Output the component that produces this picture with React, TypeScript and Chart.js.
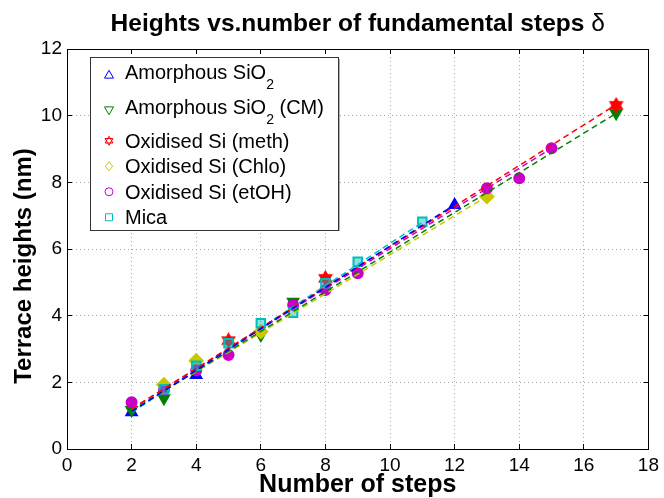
import React, { useEffect, useRef } from 'react';
import { Chart, registerables } from 'chart.js';

Chart.register(...registerables);

const FONT = '"Liberation Sans", Arial, Helvetica, sans-serif';

const TITLE_TEXT = 'Heights vs.number of fundamental steps ';
const TITLE_SYMBOL = 'δ';
const X_TITLE = 'Number of steps';
const Y_TITLE = 'Terrace heights (nm)';

const X_TICKS = [0, 2, 4, 6, 8, 10, 12, 14, 16, 18];
const Y_TICKS = [0, 2, 4, 6, 8, 10, 12];

// "_x" marks a subscript character in a legend entry
const SERIES_LABELS = [
  'Amorphous SiO_2',
  'Amorphous SiO_2 (CM)',
  'Oxidised Si (meth)',
  'Oxidised Si (Chlo)',
  'Oxidised Si (etOH)',
  'Mica',
];

// measured terrace heights (nm) against number of steps
const SIO2_STEPS = [2, 4, 12];
const SIO2_HEIGHTS = [1.1, 2.22, 7.32];

const SIO2_CM_STEPS = [2, 3, 6, 7, 17];
const SIO2_CM_HEIGHTS = [1.17, 1.52, 3.42, 4.42, 10.07];

const METH_STEPS = [5, 8, 17];
const METH_HEIGHTS = [3.25, 5.12, 10.31];

const CHLO_STEPS = [3, 4, 6, 13];
const CHLO_HEIGHTS = [1.93, 2.65, 3.52, 7.57];

const ETOH_STEPS = [2, 3, 4, 5, 7, 8, 9, 13, 14, 15];
const ETOH_HEIGHTS = [1.4, 1.76, 2.36, 2.82, 4.32, 4.77, 5.27, 7.82, 8.12, 9.02];

const MICA_STEPS = [3, 4, 5, 6, 7, 8, 9, 11];
const MICA_HEIGHTS = [1.79, 2.5, 3.17, 3.77, 4.09, 4.97, 5.62, 6.82];

// linear fits per series: [first step, last step] and the fitted heights there
const FIT_STEPS = [
  [2, 12],
  [2, 17],
  [2, 17],
  [2, 13],
  [2, 15],
  [2, 11],
];
const FIT_HEIGHTS = [
  [1.12, 7.33],
  [1.15, 10.07],
  [1.2, 10.33],
  [1.15, 7.58],
  [1.2, 9.02],
  [1.1, 6.8],
];

const SERIES_STEPS = [SIO2_STEPS, SIO2_CM_STEPS, METH_STEPS, CHLO_STEPS, ETOH_STEPS, MICA_STEPS];
const SERIES_HEIGHTS = [SIO2_HEIGHTS, SIO2_CM_HEIGHTS, METH_HEIGHTS, CHLO_HEIGHTS, ETOH_HEIGHTS, MICA_HEIGHTS];

type MarkerStyle = 'triangle' | 'triangleDown' | 'hexagram' | 'diamond' | 'circle' | 'square';

const SERIES_STYLE: { color: string; fill: string; marker: MarkerStyle; radius: number }[] = [
  { color: '#0000ff', fill: '#0000ff', marker: 'triangle', radius: 6 },
  { color: '#008000', fill: '#008000', marker: 'triangleDown', radius: 6 },
  { color: '#ff0000', fill: '#ff0000', marker: 'hexagram', radius: 6.5 },
  { color: '#c8c800', fill: '#c8c800', marker: 'diamond', radius: 6.5 },
  { color: '#c800c8', fill: '#c800c8', marker: 'circle', radius: 5 },
  { color: '#00bebe', fill: 'rgba(0,190,190,0.45)', marker: 'square', radius: 6 },
];

function hexagramPath(g: CanvasRenderingContext2D, cx: number, cy: number, r: number) {
  g.beginPath();
  for (let k = 0; k < 2; k++) {
    for (let i = 0; i < 3; i++) {
      const a = -Math.PI / 2 + k * Math.PI + (i * 2 * Math.PI) / 3;
      const px = cx + r * Math.cos(a);
      const py = cy + r * Math.sin(a);
      if (i === 0) g.moveTo(px, py);
      else g.lineTo(px, py);
    }
    g.closePath();
  }
}

function hexagramImage(color: string, r: number) {
  const size = Math.ceil(r * 2 + 4);
  const c = document.createElement('canvas');
  c.width = size;
  c.height = size;
  const g = c.getContext('2d')!;
  g.fillStyle = color;
  g.strokeStyle = color;
  g.lineWidth = 2;
  hexagramPath(g, size / 2, size / 2, r);
  g.fill();
  g.stroke();
  return c;
}

// hollow legend marker
function drawLegendMarker(g: CanvasRenderingContext2D, marker: MarkerStyle, x: number, y: number, color: string) {
  g.save();
  g.strokeStyle = color;
  g.lineWidth = 1;
  g.beginPath();
  const r = 4.5;
  if (marker === 'triangle' || marker === 'triangleDown') {
    const s = marker === 'triangle' ? 1 : -1;
    g.moveTo(x, y - s * r);
    g.lineTo(x + r, y + s * r * 0.75);
    g.lineTo(x - r, y + s * r * 0.75);
    g.closePath();
  } else if (marker === 'hexagram') {
    hexagramPath(g, x, y, r);
  } else if (marker === 'diamond') {
    g.moveTo(x, y - r);
    g.lineTo(x + r * 0.8, y);
    g.lineTo(x, y + r);
    g.lineTo(x - r * 0.8, y);
    g.closePath();
  } else if (marker === 'circle') {
    g.arc(x, y, 4, 0, Math.PI * 2);
  } else {
    g.rect(x - 3.5, y - 3.5, 7, 7);
  }
  g.stroke();
  g.restore();
}

function drawRichText(g: CanvasRenderingContext2D, text: string, x: number, baseline: number) {
  const main = `20px ${FONT}`;
  const sub = `14px ${FONT}`;
  let cx = x;
  let buf = '';
  const flush = () => {
    if (!buf) return;
    g.font = main;
    g.fillText(buf, cx, baseline);
    cx += g.measureText(buf).width;
    buf = '';
  };
  for (let i = 0; i < text.length; i++) {
    if (text[i] === '_' && i + 1 < text.length) {
      flush();
      g.font = sub;
      g.fillText(text[i + 1], cx, baseline + 10);
      cx += g.measureText(text[i + 1]).width;
      i++;
    } else {
      buf += text[i];
    }
  }
  flush();
}

const decorPlugin = {
  id: 'decor',
  afterDraw(chart: any) {
    const { ctx, chartArea: a, scales } = chart;
    const al = (v: number) => Math.round(v - 0.5) + 0.5;
    ctx.save();

    // axes box
    ctx.strokeStyle = '#000';
    ctx.lineWidth = 1;
    ctx.beginPath();
    ctx.moveTo(al(a.left), al(a.top));
    ctx.lineTo(al(a.right), al(a.top));
    ctx.lineTo(al(a.right), al(a.bottom));
    ctx.stroke();

    // inward tick marks on all four sides
    const tl = 5;
    ctx.beginPath();
    X_TICKS.forEach((v) => {
      const px = al(scales.x.getPixelForValue(v));
      ctx.moveTo(px, a.bottom);
      ctx.lineTo(px, a.bottom - tl);
      ctx.moveTo(px, a.top);
      ctx.lineTo(px, a.top + tl);
    });
    Y_TICKS.forEach((v) => {
      const py = al(scales.y.getPixelForValue(v));
      ctx.moveTo(a.left, py);
      ctx.lineTo(a.left + tl, py);
      ctx.moveTo(a.right, py);
      ctx.lineTo(a.right - tl, py);
    });
    ctx.stroke();

    // title
    ctx.fillStyle = '#000';
    ctx.textBaseline = 'alphabetic';
    ctx.textAlign = 'left';
    const boldFont = `bold 24.5px ${FONT}`;
    const symFont = `24.5px ${FONT}`;
    ctx.font = boldFont;
    const w1 = ctx.measureText(TITLE_TEXT).width;
    ctx.font = symFont;
    const w2 = ctx.measureText(TITLE_SYMBOL).width;
    const tx = (a.left + a.right) / 2 - (w1 + w2) / 2;
    ctx.font = boldFont;
    ctx.fillText(TITLE_TEXT, tx, 31);
    ctx.font = symFont;
    ctx.fillText(TITLE_SYMBOL, tx + w1, 31);

    // y-axis label, rotated
    ctx.save();
    ctx.translate(31, 266);
    ctx.rotate(-Math.PI / 2);
    ctx.font = `bold 24px ${FONT}`;
    ctx.textAlign = 'center';
    ctx.textBaseline = 'alphabetic';
    ctx.fillText(Y_TITLE, 0, 0);
    ctx.restore();

    // legend box
    const lx = a.left + 23;
    const ly = a.top + 8;
    const lw = 248;
    const rows = SERIES_LABELS.map((t) => (t.includes('_') ? 35.5 : 25.5));
    const lh = rows.reduce((s, h) => s + h, 0);
    ctx.fillStyle = '#fff';
    ctx.fillRect(lx, ly, lw, lh);
    ctx.strokeStyle = '#b0b0b0';
    ctx.lineWidth = 2;
    ctx.beginPath();
    ctx.moveTo(lx + lw + 1, ly + 2);
    ctx.lineTo(lx + lw + 1, ly + lh + 1);
    ctx.stroke();
    ctx.strokeStyle = '#333';
    ctx.lineWidth = 1;
    ctx.strokeRect(lx + 0.5, ly + 0.5, lw, lh);

    let y = ly;
    SERIES_LABELS.forEach((label, i) => {
      const h = rows[i];
      const cy = y + h / 2;
      const st = SERIES_STYLE[i];
      drawLegendMarker(ctx, st.marker, lx + 19, cy, st.color);
      ctx.fillStyle = '#000';
      ctx.textAlign = 'left';
      ctx.textBaseline = 'alphabetic';
      const hasSub = label.includes('_');
      drawRichText(ctx, label, lx + 35, hasSub ? cy + 4 : cy + 7);
      y += h;
    });

    ctx.restore();
  },
};

export default function App() {
  const canvasRef = useRef<HTMLCanvasElement | null>(null);

  useEffect(() => {
    const canvas = canvasRef.current;
    if (!canvas) return;

    const pointStyleFor = (s: (typeof SERIES_STYLE)[number]) => {
      switch (s.marker) {
        case 'triangle':
        case 'triangleDown':
          return 'triangle';
        case 'hexagram':
          return hexagramImage(s.color, s.radius);
        case 'diamond':
          return 'rectRot';
        case 'circle':
          return 'circle';
        default:
          return 'rect';
      }
    };

    const pointSets = SERIES_LABELS.map((label, i) => {
      const s = SERIES_STYLE[i];
      return {
        type: 'scatter',
        label,
        data: SERIES_STEPS[i].map((x, j) => ({ x, y: SERIES_HEIGHTS[i][j] })),
        pointStyle: pointStyleFor(s),
        pointRotation: s.marker === 'triangleDown' ? 180 : 0,
        pointRadius: s.radius,
        pointBorderWidth: 2,
        borderColor: s.color,
        backgroundColor: s.fill,
        showLine: false,
        order: 10 - i,
      };
    });

    const fitSets = SERIES_LABELS.map((label, i) => ({
      type: 'scatter',
      label: `${label} fit`,
      data: FIT_STEPS[i].map((x, j) => ({ x, y: FIT_HEIGHTS[i][j] })),
      showLine: true,
      borderColor: SERIES_STYLE[i].color,
      borderWidth: 1.5,
      borderDash: [6, 4],
      pointRadius: 0,
      fill: false,
      order: 0,
    }));

    const tickFont = { family: FONT, size: 19 };

    const chart = new Chart(canvas, {
      type: 'scatter',
      data: { datasets: [...fitSets, ...pointSets] as any },
      options: {
        responsive: false,
        animation: false,
        devicePixelRatio: 1,
        layout: { padding: { top: 49, right: 12, bottom: 0, left: 0 } },
        plugins: {
          legend: { display: false },
          tooltip: { enabled: false },
          title: { display: false },
        },
        scales: {
          x: {
            type: 'linear',
            min: 0,
            max: 18,
            afterBuildTicks: (s: any) => {
              s.ticks = X_TICKS.map((v) => ({ value: v }));
            },
            ticks: { font: tickFont, color: '#000', padding: 5, maxRotation: 0 },
            grid: { color: '#a8a8a8', lineWidth: 1, drawTicks: false },
            border: { display: true, color: '#000', width: 1, dash: [1, 3] },
            title: {
              display: true,
              text: X_TITLE,
              color: '#000',
              font: { family: FONT, size: 25, weight: 'bold' },
              padding: { top: 0, bottom: -2 },
            },
            afterFit: (s: any) => {
              s.height = 49;
            },
          },
          y: {
            type: 'linear',
            min: 0,
            max: 12,
            afterBuildTicks: (s: any) => {
              s.ticks = Y_TICKS.map((v) => ({ value: v }));
            },
            ticks: { font: tickFont, color: '#000', padding: 5 },
            grid: { color: '#a8a8a8', lineWidth: 1, drawTicks: false },
            border: { display: true, color: '#000', width: 1, dash: [1, 3] },
            title: { display: false },
            afterFit: (s: any) => {
              s.width = 67;
            },
          },
        },
      } as any,
      plugins: [decorPlugin],
    });

    return () => chart.destroy();
  }, []);

  return (
    <div style={{ position: 'fixed', left: 0, top: 0, width: 664, height: 498, background: '#fff' }}>
      <canvas ref={canvasRef} width={664} height={498} />
    </div>
  );
}
